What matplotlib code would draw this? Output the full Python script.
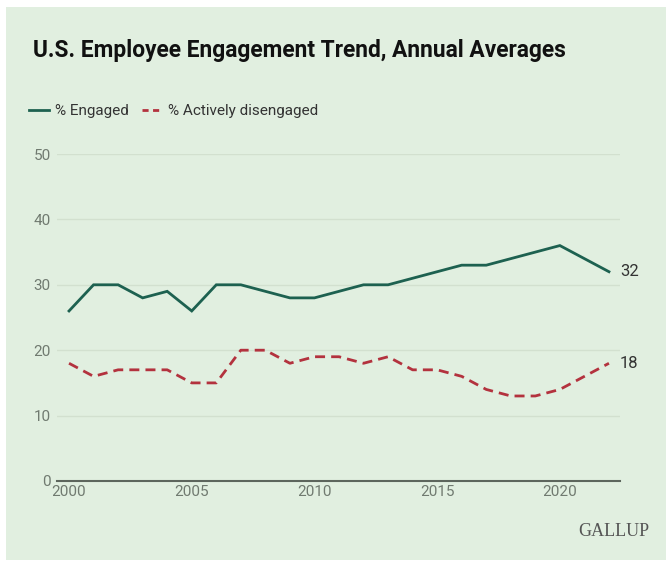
import matplotlib
matplotlib.use("Agg")
import matplotlib.pyplot as plt
from matplotlib.lines import Line2D
from matplotlib.patches import Rectangle

years = list(range(2000, 2023))
engaged = [26, 30, 30, 28, 29, 26, 30, 30, 29, 28, 28, 29, 30, 30, 31, 32, 33, 33, 34, 35, 36, 34, 32]
disengaged = [18, 16, 17, 17, 17, 15, 15, 20, 20, 18, 19, 19, 18, 19, 17, 17, 16, 14, 13, 13, 14, 16, 18]
y_ticks = [0, 10, 20, 30, 40, 50]
x_ticks = [2000, 2005, 2010, 2015, 2020]

# 配色
BG = "#e1efe0"
GREEN = "#1d6150"
RED = "#b3323e"
GRID = "#d2e0cf"
TICK = "#707a70"

plt.rcParams['font.family'] = ['Roboto', 'DejaVu Sans']

fig = plt.figure(figsize=(6.68, 5.62), dpi=100)
fig.patch.set_facecolor("white")
# 绿色背景卡片
fig.patches.append(Rectangle((6 / 668, 2 / 562), 660 / 668, 553 / 562,
                             transform=fig.transFigure, facecolor=BG,
                             edgecolor="none", zorder=-10))

ax = fig.add_axes([57 / 668, 1 - 481 / 562, 563 / 668, 327 / 562])
ax.set_zorder(5)
ax.set_facecolor("none")

ax.plot(years, engaged, color=GREEN, lw=2.0, solid_joinstyle="miter")
ax.plot(years, disengaged, color=RED, lw=2.0, ls=(0, (3.6, 2.2)))

ax.set_xlim(1999.51, 2022.45)
ax.set_ylim(0, 50)
ax.set_yticks(y_ticks)
ax.set_xticks(x_ticks)
ax.grid(axis="y", color=GRID, lw=1.0)
ax.set_axisbelow(True)
for s in ["top", "right", "left"]:
    ax.spines[s].set_visible(False)
ax.spines["bottom"].set_color("#5d665d")
ax.spines["bottom"].set_linewidth(1.5)
ax.tick_params(axis="both", length=0, labelsize=11, labelcolor=TICK)
ax.tick_params(axis="y", pad=4.5)
ax.tick_params(axis="x", pad=3)

# 末端数值标签
ax.annotate(str(engaged[-1]), (years[-1], engaged[-1]), xytext=(8, 0),
            textcoords="offset points", va="center", ha="left",
            fontsize=12, color="#333333", annotation_clip=False)
ax.annotate(str(disengaged[-1]), (years[-1], disengaged[-1]), xytext=(8, 0),
            textcoords="offset points", va="center", ha="left",
            fontsize=12, color="#333333", annotation_clip=False)

fig.text(33 / 668, 1 - 50 / 562, "U.S. Employee Engagement Trend, Annual Averages",
         fontsize=16.4, fontweight="bold", color="#111111", va="center", ha="left")

handles = [Line2D([], [], color=GREEN, lw=2.0),
           Line2D([], [], color=RED, lw=2.0, ls=(0, (2.2, 1.6)))]
fig.legend(handles, ["% Engaged", "% Actively disengaged"],
           loc="center left", bbox_to_anchor=(15 / 668, 1 - 111 / 562),
           ncol=2, frameon=False, fontsize=11, handlelength=1.3,
           handletextpad=0.4, columnspacing=0.9, labelcolor="#333333")

fig.text(649 / 668, 1 - 531 / 562, "GALLUP", family="Liberation Serif",
         fontsize=13, color="#555555", ha="right", va="center")

fig.savefig("out.png", dpi=100, facecolor=fig.get_facecolor())
